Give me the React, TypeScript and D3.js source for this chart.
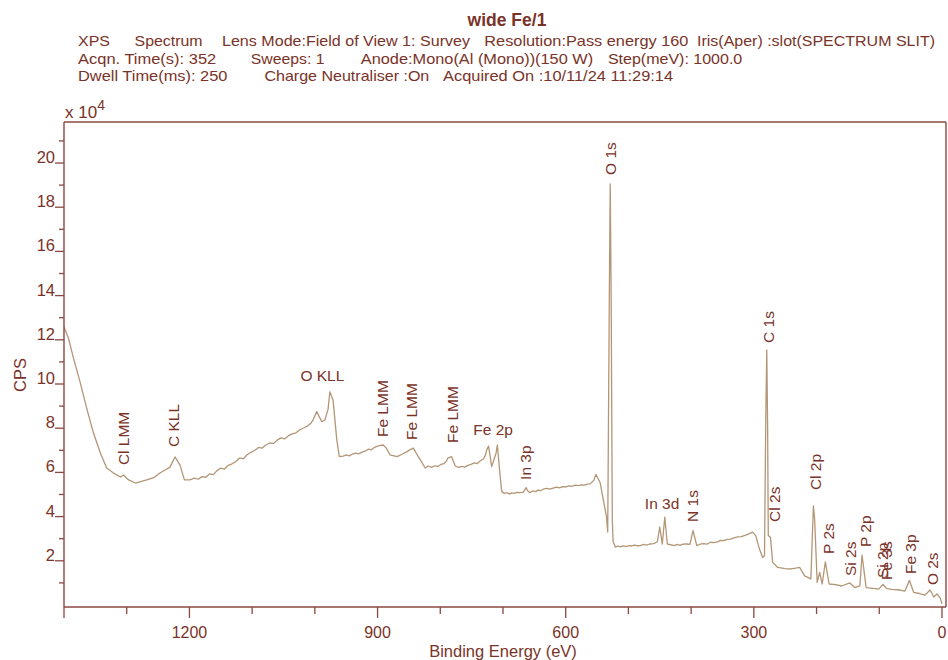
import React from "react";
import * as d3 from "d3";

const W = 948;
const H = 660;

// Spectrum: binding energy (eV) and counts per second
const energy = [
  1400, 1393, 1385, 1374, 1363, 1353, 1342, 1332, 1321, 1310, 1305, 1297, 1286, 1278, 1268, 1257, 1247, 1238, 1231, 1223,
  1215, 1208,
  1199, 1192, 1186, 1180, 1174, 1168, 1162, 1156, 1150, 1144, 1138, 1132, 1126, 1120, 1114, 1108, 1102, 1096, 1090, 1084,
  1078, 1072, 1066, 1060, 1054, 1048, 1042, 1036, 1030, 1024, 1018, 1012, 1006,
  1003, 997, 989, 984, 979, 976, 971, 965, 961,
  955, 950, 945, 940, 935, 930, 925, 920, 915, 910, 905, 900, 895, 891, 886, 880, 869,
  861, 853, 848, 843, 835,
  824, 819, 814, 809, 804, 799, 794, 790, 788, 782,
  776, 771, 766, 761, 756, 751, 746, 741, 736, 731, 728, 726, 723,
  718, 711, 709, 705,
  702, 698, 694, 690, 686, 682, 678, 673, 668, 665, 663, 661, 657, 653, 648, 644, 640, 635, 630, 625,
  620, 615, 610, 605, 600, 595, 590, 585, 580, 575, 570, 565, 561,
  555, 552, 548, 545, 540, 535, 533, 530.5, 529, 527.5, 525.7, 524.5,
  521, 517, 513, 508, 504, 499, 495, 490, 485, 481, 476, 471, 466, 460,
  454, 450, 446, 442, 438,
  427, 422, 418, 413, 407, 402, 397, 391, 386, 380, 375, 369, 364, 358, 353, 348, 343, 337, 332, 326, 320, 314, 308, 302,
  297, 291, 286, 283, 281, 279.4, 278, 277, 273.5, 270, 262, 250, 241, 233, 227, 219, 209, 207, 205, 203,
  199, 195, 191, 186, 180, 170, 160, 147, 139, 131, 127.5, 121, 110, 101, 94, 88, 80, 70, 59, 52,
  45, 36, 27, 19, 13, 8, 3, 0,
];
const counts = [
  125800, 120800, 111800, 100500, 88200, 77800, 68800, 62000, 59700, 57900, 58800, 56600, 55200, 55800, 56600, 57600, 59700, 61200, 62400, 67000,
  63300, 56600,
  56600, 57400, 56900, 58100, 57800, 59300, 59000, 60800, 61900, 61500, 63200, 63900, 64900, 66500, 66200, 68000, 69100, 69900, 71300, 71000,
  72400, 73300, 73100, 74600, 75600, 75200, 76600, 77400, 77900, 79300, 80100, 80900, 82400,
  83700, 87500, 82900, 83700, 88500, 96500, 92800, 74700, 67100,
  67400, 67900, 67500, 68300, 68700, 68400, 69200, 69600, 70500, 70200, 71300, 71900, 72200, 72400, 71000, 67900, 67100,
  68200, 69400, 70300, 71000, 67100,
  62000, 62900, 62300, 63000, 62700, 63600, 64000, 65200, 66500, 67100,
  62900, 62300, 62700, 62400, 63200, 63600, 64300, 64000, 65300, 66200, 67800, 70100, 71900,
  62600, 68800, 72400, 59700,
  51300, 50400, 50900, 50200, 50700, 50500, 51000, 50800, 51000, 52200, 53100, 51800, 50800, 51600, 51300, 52000, 51700, 52500, 52800, 52400,
  52900, 53300, 53000, 53600, 53400, 53900, 53700, 54200, 54000, 54400, 54200, 54700, 54800,
  56500, 59100, 57000, 55200, 47500, 40000, 33000, 138000, 190500, 138000, 38500, 29000,
  26200, 26700, 26300, 26700, 26400, 26900, 26700, 27100, 26800, 26900, 27400, 27100, 27600, 27800,
  28500, 35300, 27600, 39800, 27600,
  26900, 27400, 27000, 27500, 27600, 27400, 33700, 26900, 27500, 27800, 27500, 28400, 28200, 28600, 29200, 29100, 29700, 29800, 30400, 30800, 30900, 31500, 32200, 33000,
  31400, 25300, 21500, 22300, 83700, 115400, 79200, 31400, 30600, 19300, 17000, 16500, 16300, 16700, 17000, 13200, 11800, 29400, 44800, 38500,
  10200, 14800, 9500, 19500, 9500, 9200, 8600, 10000, 7900, 8600, 22600, 7900, 7500, 7200, 9300, 7400, 7100, 6900, 6300, 11100,
  5700, 5200, 4500, 6800, 3600, 5000, 3200, 500,
];

// Peak annotations
const peakNames = [
  "Cl LMM", "C KLL", "O KLL", "Fe LMM", "Fe LMM", "Fe LMM", "Fe 2p", "In 3p", "O 1s", "In 3d",
  "N 1s", "C 1s", "Cl 2s", "Cl 2p", "P 2s", "Si 2s", "P 2p", "Si 2p", "Fe 3s", "Fe 3p", "O 2s",
];
const peakEnergy = [
  1296, 1216, 988, 883, 837, 771.5, 715.7, 655, 519.7, 446.3,
  389, 267.8, 258.2, 192.9, 172.2, 137.1, 113.2, 86, 80, 41.4, 6.4,
];
const peakLevel = [
  63300, 71500, 101400, 76000, 74700, 73300, 76900, 56600, 194600, 43400,
  37600, 118600, 37600, 52000, 23100, 13100, 26200, 12200, 11300, 14000, 9000,
];
const peakVertical = [
  true, true, false, true, true, true, false, true, true, false,
  true, true, true, true, true, true, true, true, true, true, true,
];

const xTicksMajor = [1200, 900, 600, 300, 0];
const xTicksMinor = [1400, 1300, 1100, 1000, 800, 700, 500, 400, 200, 100];
const yTicksMajor = [2, 4, 6, 8, 10, 12, 14, 16, 18, 20];
const yTicksMinor = [1, 3, 5, 7, 9, 11, 13, 15, 17, 19, 21];

const titleText = "wide Fe/1";
const headerRows = [
  ["XPS", "Spectrum", "Lens Mode:Field of View 1: Survey", "Resolution:Pass energy 160", "Iris(Aper) :slot(SPECTRUM SLIT)"],
  ["Acqn. Time(s): 352", "Sweeps: 1", "Anode:Mono(Al (Mono))(150 W)", "Step(meV): 1000.0"],
  ["Dwell Time(ms): 250", "Charge Neutraliser :On", "Acquired On :10/11/24 11:29:14"],
];
const headerSpans = [
  [[78, 110], [134.6, 202.6], [222, 470], [484.3, 688.4], [697, 935]],
  [[78, 216.2], [250.8, 324.5], [360.8, 593.2], [607.9, 742.3]],
  [[78, 227.5], [264.4, 429.3], [443, 673.1]],
];
const headerBaselines = [46, 64, 81];

const TEXT = "#7a3328";
const AXIS = "#8a4840";
const CURVE = "#b39676";
const FONT = "'Liberation Sans', Arial, Helvetica, sans-serif";

export default function App() {
  const left = 64, right = 946, top = 122, bottom = 607;
  const x = d3.scaleLinear().domain([1400, -6.4]).range([left, right]);
  const y = d3.scaleLinear().domain([-905, 218550]).range([bottom, top]);

  const pts = energy.map((e, i) => [e, counts[i]] as [number, number]);
  const line = d3.line<[number, number]>().x((d) => x(d[0])).y((d) => y(d[1]));

  return (
    <svg
      width={W}
      height={H}
      style={{ position: "absolute", left: 0, top: 0, background: "#fff" }}
      fontFamily={FONT}
    >
      <rect x={0} y={0} width={W} height={H} fill="#fff" />
      {/* Title */}
      <text x={507} y={26} textAnchor="middle" fontSize={17.5} fontWeight="bold" fill={TEXT}>
        {titleText}
      </text>
      {headerRows.map((row, r) =>
        row.map((t, i) => (
          <text
            key={`h${r}-${i}`}
            x={headerSpans[r][i][0]}
            y={headerBaselines[r]}
            fontSize={14.5}
            fill={TEXT}
            textLength={headerSpans[r][i][1] - headerSpans[r][i][0]}
            lengthAdjust="spacingAndGlyphs"
          >
            {t}
          </text>
        ))
      )}

      {/* Spectrum */}
      <path d={line(pts) || ""} fill="none" stroke={CURVE} strokeWidth={1.3} strokeLinejoin="round" />

      {/* Frame */}
      <line x1={left} x2={right} y1={top} y2={top} stroke={AXIS} strokeWidth={1.4} />
      <line x1={right} x2={right} y1={top} y2={bottom} stroke={AXIS} strokeWidth={1.4} />
      <line x1={left} x2={left} y1={top} y2={bottom} stroke={AXIS} strokeWidth={1.4} />
      <line x1={left} x2={right} y1={bottom} y2={bottom} stroke={AXIS} strokeWidth={1.4} />

      {/* X ticks */}
      {xTicksMinor.map((t) => (
        <line key={`xm${t}`} x1={x(t)} x2={x(t)} y1={bottom} y2={bottom + (t === 1400 ? 11 : 7)} stroke={AXIS} strokeWidth={1.3} />
      ))}
      {xTicksMajor.map((t) => (
        <g key={`xM${t}`}>
          <line x1={x(t)} x2={x(t)} y1={bottom} y2={bottom + 11} stroke={AXIS} strokeWidth={1.3} />
          <text x={x(t)} y={638} textAnchor="middle" fontSize={16} fill={TEXT}>
            {t}
          </text>
        </g>
      ))}
      <text x={503} y={657} textAnchor="middle" fontSize={16.5} fill={TEXT}>
        Binding Energy (eV)
      </text>

      {/* Y ticks */}
      {yTicksMinor.map((t) => (
        <line key={`ym${t}`} x1={left - 5} x2={left} y1={y(t * 1e4)} y2={y(t * 1e4)} stroke={AXIS} strokeWidth={1.3} />
      ))}
      {yTicksMajor.map((t) => (
        <g key={`yM${t}`}>
          <line x1={left - 9} x2={left} y1={y(t * 1e4)} y2={y(t * 1e4)} stroke={AXIS} strokeWidth={1.3} />
          <text x={left - 9} y={y(t * 1e4)} textAnchor="end" fontSize={16.5} fill={TEXT}>
            {t}
          </text>
        </g>
      ))}
      <text x={65} y={118} fontSize={17} fill={TEXT}>
        x 10
        <tspan dy={-8} fontSize={14}>
          4
        </tspan>
      </text>
      <text transform={`translate(26,375) rotate(-90)`} textAnchor="middle" fontSize={16.5} fill={TEXT}>
        CPS
      </text>

      {/* Peak labels */}
      {peakNames.map((name, i) =>
        peakVertical[i] ? (
          <text
            key={`p${i}`}
            transform={`translate(${x(peakEnergy[i])},${y(peakLevel[i])}) rotate(-90)`}
            fontSize={15.5}
            fill={TEXT}
          >
            {name}
          </text>
        ) : (
          <text key={`p${i}`} x={x(peakEnergy[i])} y={y(peakLevel[i])} textAnchor="middle" fontSize={15.5} fill={TEXT}>
            {name}
          </text>
        )
      )}
    </svg>
  );
}
